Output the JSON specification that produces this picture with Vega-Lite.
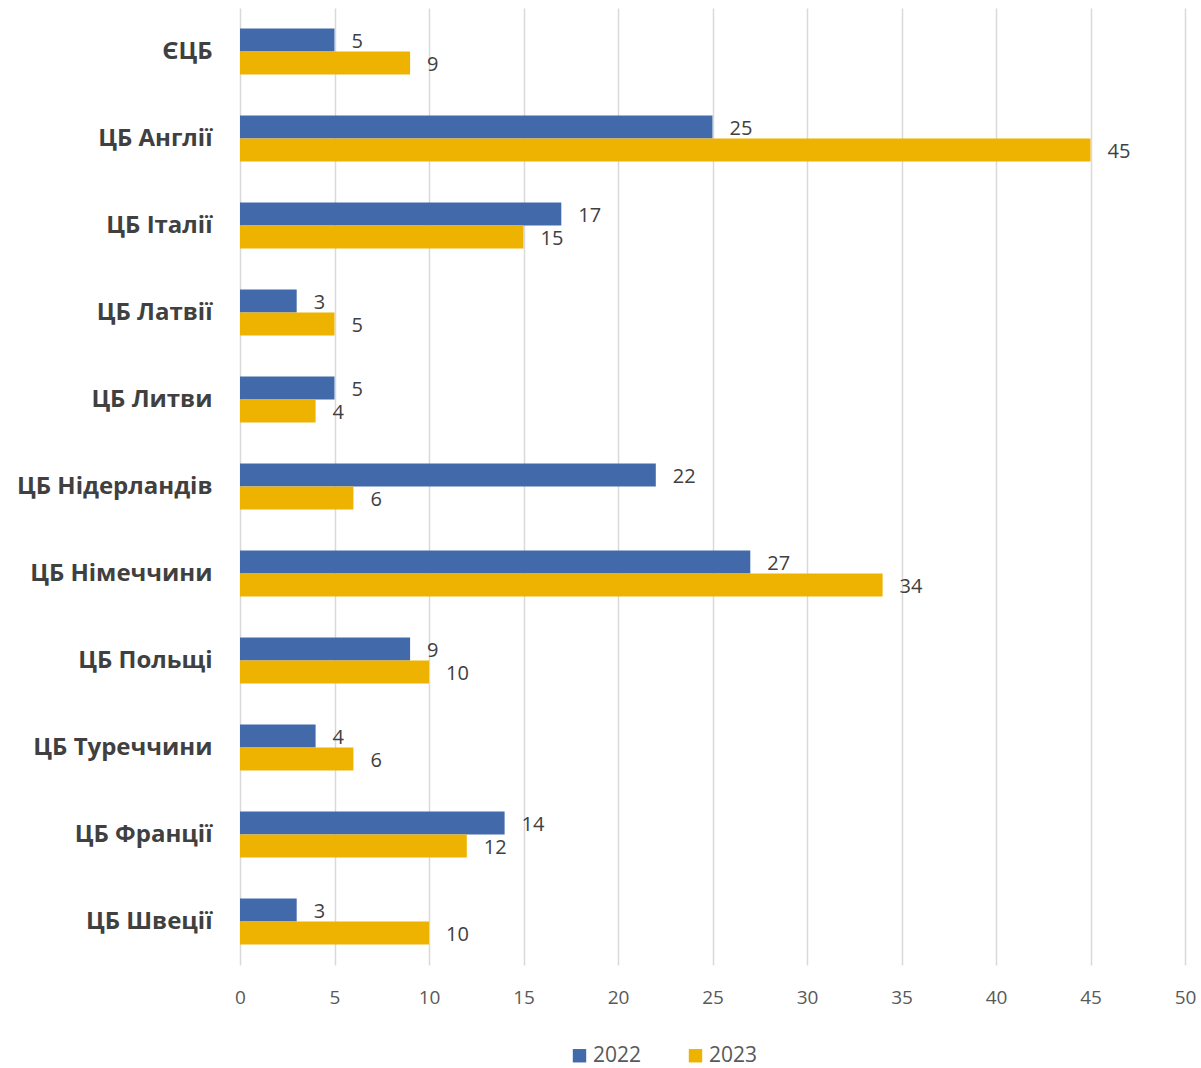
{
  "$schema": "https://vega.github.io/schema/vega-lite/v6.json",
  "autosize": {"type": "none"},
  "width": 945,
  "height": 957,
  "padding": {"left": 240, "top": 8, "right": 16, "bottom": 103},
  "background": "white",
  "data": {
    "values": [
      {"bank": "ЄЦБ", "year": "2022", "value": 5},
      {"bank": "ЄЦБ", "year": "2023", "value": 9},
      {"bank": "ЦБ Англії", "year": "2022", "value": 25},
      {"bank": "ЦБ Англії", "year": "2023", "value": 45},
      {"bank": "ЦБ Італії", "year": "2022", "value": 17},
      {"bank": "ЦБ Італії", "year": "2023", "value": 15},
      {"bank": "ЦБ Латвії", "year": "2022", "value": 3},
      {"bank": "ЦБ Латвії", "year": "2023", "value": 5},
      {"bank": "ЦБ Литви", "year": "2022", "value": 5},
      {"bank": "ЦБ Литви", "year": "2023", "value": 4},
      {"bank": "ЦБ Нідерландів", "year": "2022", "value": 22},
      {"bank": "ЦБ Нідерландів", "year": "2023", "value": 6},
      {"bank": "ЦБ Німеччини", "year": "2022", "value": 27},
      {"bank": "ЦБ Німеччини", "year": "2023", "value": 34},
      {"bank": "ЦБ Польщі", "year": "2022", "value": 9},
      {"bank": "ЦБ Польщі", "year": "2023", "value": 10},
      {"bank": "ЦБ Туреччини", "year": "2022", "value": 4},
      {"bank": "ЦБ Туреччини", "year": "2023", "value": 6},
      {"bank": "ЦБ Франції", "year": "2022", "value": 14},
      {"bank": "ЦБ Франції", "year": "2023", "value": 12},
      {"bank": "ЦБ Швеції", "year": "2022", "value": 3},
      {"bank": "ЦБ Швеції", "year": "2023", "value": 10}
    ]
  },
  "encoding": {
    "y": {
      "field": "bank", "type": "nominal", "sort": null,
      "scale": {"paddingInner": 0.47, "paddingOuter": 0.235},
      "axis": {
        "title": null, "domain": false, "ticks": false,
        "labelFont": "Open Sans", "labelFontWeight": "bold", "labelFontSize": 24,
        "labelColor": "#404040", "labelPadding": 28, "labelLimit": 300
      }
    },
    "yOffset": {"field": "year", "type": "nominal", "sort": ["2022", "2023"]},
    "x": {
      "field": "value", "type": "quantitative",
      "scale": {"domain": [0, 50], "nice": false},
      "axis": {
        "title": null, "values": [0, 5, 10, 15, 20, 25, 30, 35, 40, 45, 50],
        "domain": false, "ticks": false, "labelFlush": false,
        "grid": true, "gridColor": "#D9D9D9", "gridWidth": 1.5,
        "labelFont": "Open Sans", "labelFontSize": 19, "labelColor": "#595959",
        "labelPadding": 23
      }
    }
  },
  "layer": [
    {
      "mark": {"type": "bar"},
      "encoding": {
        "color": {
          "field": "year", "type": "nominal",
          "scale": {"domain": ["2022", "2023"], "range": ["#426AAB", "#EDB300"]},
          "legend": {
            "title": null, "orient": "none", "direction": "horizontal",
            "legendX": 329, "legendY": 1037,
            "symbolType": "square", "symbolSize": 180, "symbolStrokeWidth": 0,
            "labelFont": "Open Sans", "labelFontSize": 21, "labelColor": "#595959",
            "columnPadding": 43, "labelOffset": 3
          }
        }
      }
    },
    {
      "mark": {"type": "text", "align": "left", "baseline": "middle", "dx": 17, "dy": 2,
               "font": "Open Sans", "fontSize": 20, "color": "#404040"},
      "encoding": {"text": {"field": "value", "type": "quantitative"}}
    }
  ],
  "config": {"view": {"stroke": null}}
}
